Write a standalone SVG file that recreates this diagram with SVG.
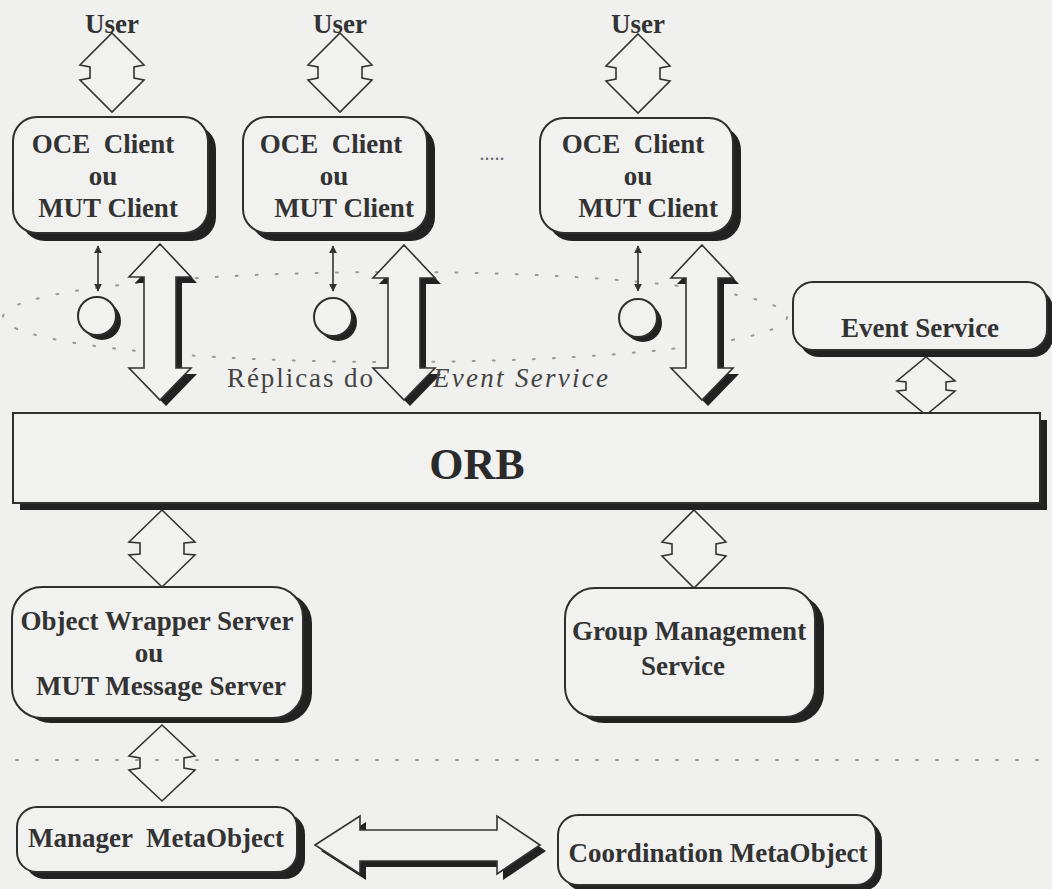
<svg xmlns="http://www.w3.org/2000/svg" width="1052" height="889" viewBox="0 0 1052 889">
  <defs>
    <style>
      .bg { fill: #f0f0ef; }
      .box { fill: #f1f1f0; stroke: #2e2e2e; stroke-width: 2; }
      .shadow { fill: #222; }
      .harrow { fill: #f1f1f0; stroke: #333; stroke-width: 1.6; stroke-linejoin: miter; }
      .lbl { font-family: "Liberation Serif", "Times New Roman", serif; font-weight: bold; font-size: 27px; fill: #333; text-anchor: middle; }
      .orb { font-family: "Liberation Serif", "Times New Roman", serif; font-weight: bold; font-size: 44px; fill: #2a2a2a; text-anchor: middle; }
      .rep { font-family: "Liberation Serif", "Times New Roman", serif; font-size: 27px; fill: #444; }
      .dots { fill: none; stroke: #9a9a9a; stroke-width: 2; stroke-dasharray: 2 18; stroke-linecap: round; }
      .thin { stroke: #333; stroke-width: 1.6; fill: none; }
    </style>
    <marker id="ah" viewBox="0 0 10 10" refX="9" refY="5" markerWidth="8" markerHeight="8" orient="auto-start-reverse" markerUnits="userSpaceOnUse">
      <path d="M0,0 L10,5 L0,10 Z" fill="#333"/>
    </marker>
  </defs>

  <rect class="bg" x="0" y="0" width="1052" height="889"/>

  <!-- dotted ellipse (event service replicas) -->
  <ellipse class="dots" cx="395" cy="317" rx="392" ry="45"/>

  <g id="connectors">
    <!-- User <-> clients -->
    <path class="harrow" d="M112,33 L144,65 L134,67 L134,78 L144,80 L112,112 L80,80 L90,78 L90,67 L80,65 Z"/>
    <path class="harrow" d="M340,33 L372,65 L362,67 L362,78 L372,80 L340,112 L308,80 L318,78 L318,67 L308,65 Z"/>
    <path class="harrow" d="M638,34 L670,66 L660,68 L660,79 L670,81 L638,113 L606,81 L616,79 L616,68 L606,66 Z"/>

    <!-- clients <-> replicas (thin) -->
    <line class="thin" x1="98" y1="246" x2="98" y2="291" marker-start="url(#ah)" marker-end="url(#ah)"/>
    <line class="thin" x1="333" y1="246" x2="333" y2="291" marker-start="url(#ah)" marker-end="url(#ah)"/>
    <line class="thin" x1="638" y1="246" x2="638" y2="291" marker-start="url(#ah)" marker-end="url(#ah)"/>

    <!-- big shadowed arrows clients <-> ORB -->
    <g id="bigarrow1">
      <path class="shadow" transform="translate(6,6)" d="M160,244 L191,277 L176,277 L176,368 L191,368 L160,400 L129,368 L144,368 L144,277 L129,277 Z"/>
      <path class="harrow" d="M160,244 L191,277 L176,277 L176,368 L191,368 L160,400 L129,368 L144,368 L144,277 L129,277 Z"/>
    </g>
    <g id="bigarrow2">
      <path class="shadow" transform="translate(6,6)" d="M404,245 L435,278 L420,278 L420,368 L435,368 L404,400 L373,368 L388,368 L388,278 L373,278 Z"/>
      <path class="harrow" d="M404,245 L435,278 L420,278 L420,368 L435,368 L404,400 L373,368 L388,368 L388,278 L373,278 Z"/>
    </g>
    <g id="bigarrow3">
      <path class="shadow" transform="translate(6,6)" d="M702,245 L733,278 L718,278 L718,368 L733,368 L702,400 L671,368 L686,368 L686,278 L671,278 Z"/>
      <path class="harrow" d="M702,245 L733,278 L718,278 L718,368 L733,368 L702,400 L671,368 L686,368 L686,278 L671,278 Z"/>
    </g>

    <!-- Event Service <-> ORB -->
    <path class="harrow" d="M926,357 L955,381 L946,382 L946,390 L955,391 L926,415 L897,391 L906,390 L906,382 L897,381 Z"/>

    <!-- ORB <-> servers -->
    <path class="harrow" d="M162,510 L195,542 L184,543 L184,554 L195,555 L162,587 L129,555 L140,554 L140,543 L129,542 Z"/>
    <path class="harrow" d="M694,510 L726,542 L716,544 L716,554 L726,556 L694,588 L662,556 L672,554 L672,544 L662,542 Z"/>

    <!-- OWS <-> Manager -->
    <path class="harrow" d="M162,725 L195,756 L184,758 L184,768 L195,770 L162,801 L129,770 L140,768 L140,758 L129,756 Z"/>

    <!-- Manager <-> Coordination -->
    <g id="harrowbottom">
      <path class="shadow" transform="translate(6,6)" d="M315,845 L360,816 L360,830 L497,830 L497,816 L540,845 L497,874 L497,861 L360,861 L360,874 Z"/>
      <path class="harrow" d="M315,845 L360,816 L360,830 L497,830 L497,816 L540,845 L497,874 L497,861 L360,861 L360,874 Z"/>
    </g>
  </g>

  <!-- horizontal dotted separator -->
  <line class="dots" x1="16" y1="760" x2="1046" y2="760"/>

  <!-- replicas circles -->
  <g id="replica1">
    <circle cx="102" cy="321" r="19" class="shadow"/>
    <circle cx="97" cy="316" r="19" class="box"/>
  </g>
  <g id="replica2">
    <circle cx="338" cy="322" r="19" class="shadow"/>
    <circle cx="333" cy="317" r="19" class="box"/>
  </g>
  <g id="replica3">
    <circle cx="643" cy="323" r="19" class="shadow"/>
    <circle cx="638" cy="318" r="19" class="box"/>
  </g>

  <g id="replicas-label">
    <text class="rep" x="227" y="387" textLength="146" lengthAdjust="spacing">Réplicas do</text>
    <text class="rep" x="433" y="387" font-style="italic" textLength="175" lengthAdjust="spacing">Event Service</text>
  </g>

  <!-- User labels -->
  <g id="user1"><text class="lbl" x="112" y="33">User</text></g>
  <g id="user2"><text class="lbl" x="340" y="33">User</text></g>
  <g id="user3"><text class="lbl" x="638" y="33">User</text></g>

  <!-- Clients -->
  <g id="client1">
    <rect class="shadow" x="21" y="125" width="195" height="116" rx="24"/>
    <rect class="box" x="13" y="117" width="195" height="116" rx="24"/>
    <text class="lbl" x="103" y="153" xml:space="preserve">OCE  Client</text>
    <text class="lbl" x="103" y="185">ou</text>
    <text class="lbl" x="108" y="217">MUT Client</text>
  </g>
  <g id="client2">
    <rect class="shadow" x="251" y="125" width="184" height="116" rx="24"/>
    <rect class="box" x="243" y="117" width="184" height="116" rx="24"/>
    <text class="lbl" x="331" y="153" xml:space="preserve">OCE  Client</text>
    <text class="lbl" x="334" y="185">ou</text>
    <text class="lbl" x="344" y="217">MUT Client</text>
  </g>
  <text class="lbl" x="492" y="160" style="font-weight:normal;font-size:20px;fill:#666">.....</text>
  <g id="client3">
    <rect class="shadow" x="548" y="126" width="193" height="115" rx="24"/>
    <rect class="box" x="540" y="118" width="193" height="115" rx="24"/>
    <text class="lbl" x="633" y="153" xml:space="preserve">OCE  Client</text>
    <text class="lbl" x="638" y="185">ou</text>
    <text class="lbl" x="648" y="217">MUT Client</text>
  </g>

  <!-- Event Service -->
  <g id="event-service">
    <rect class="shadow" x="799" y="289" width="254" height="68" rx="20"/>
    <rect class="box" x="793" y="282" width="254" height="68" rx="20"/>
    <text class="lbl" x="920" y="337">Event Service</text>
  </g>

  <!-- ORB -->
  <g id="orb">
    <rect class="shadow" x="20" y="420" width="1027" height="90"/>
    <rect class="box" x="13" y="413" width="1027" height="90"/>
    <text class="orb" x="477" y="479">ORB</text>
  </g>

  <!-- Object Wrapper Server -->
  <g id="object-wrapper-server">
    <rect class="shadow" x="21" y="593" width="291" height="130" rx="30"/>
    <rect class="box" x="12" y="587" width="291" height="131" rx="30"/>
    <text class="lbl" x="157" y="630">Object Wrapper Server</text>
    <text class="lbl" x="149" y="662">ou</text>
    <text class="lbl" x="161" y="695">MUT Message Server</text>
  </g>

  <!-- Group Management Service -->
  <g id="group-management-service">
    <rect class="shadow" x="574" y="595" width="250" height="128" rx="30"/>
    <rect class="box" x="565" y="588" width="250" height="129" rx="30"/>
    <text class="lbl" x="689" y="640">Group Management</text>
    <text class="lbl" x="683" y="675">Service</text>
  </g>

  <!-- Manager MetaObject -->
  <g id="manager-metaobject">
    <rect class="shadow" x="25" y="814" width="280" height="65" rx="20"/>
    <rect class="box" x="17" y="807" width="280" height="65" rx="20"/>
    <text class="lbl" x="156" y="847" xml:space="preserve">Manager  MetaObject</text>
  </g>

  <!-- Coordination MetaObject -->
  <g id="coordination-metaobject">
    <rect class="shadow" x="564" y="821" width="318" height="70" rx="20"/>
    <rect class="box" x="558" y="815" width="318" height="70" rx="20"/>
    <text class="lbl" x="718" y="862">Coordination MetaObject</text>
  </g>
</svg>
